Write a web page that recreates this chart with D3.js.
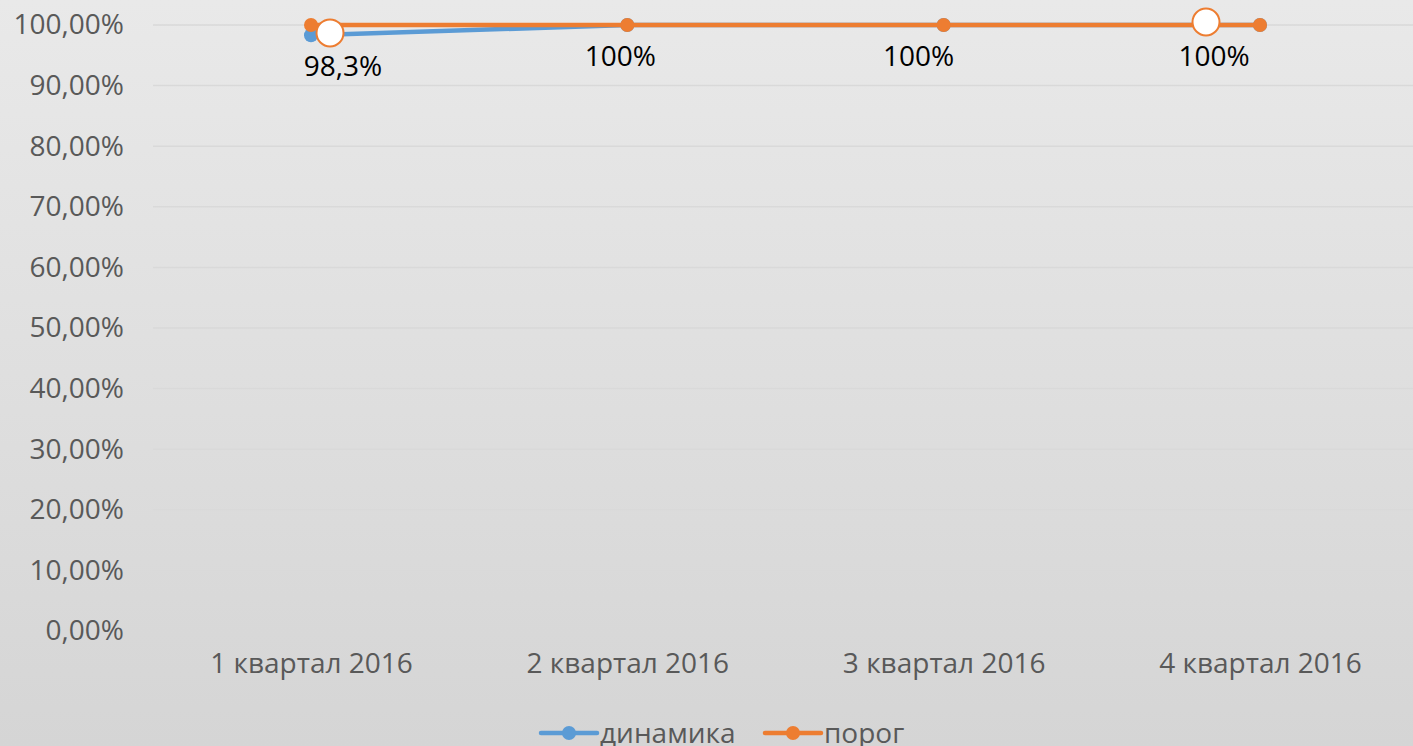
<!DOCTYPE html>
<html><head><meta charset="utf-8">
<script src="https://cdn.jsdelivr.net/npm/d3@7"></script>
<style>
html,body{margin:0;padding:0;overflow:hidden;}
svg{display:block;font-family:"Open Sans",sans-serif;}
</style></head>
<body>
<svg id="c" width="1413" height="746"></svg>
<script>
const categories = ["1 квартал 2016","2 квартал 2016","3 квартал 2016","4 квартал 2016"];
const dinamika = [0.983, 1.0, 1.0, 1.0];
const porog = [1.0, 1.0, 1.0, 1.0];
const dataLabels = ["98,3%","100%","100%","100%"];
const yTicks = [0,0.1,0.2,0.3,0.4,0.5,0.6,0.7,0.8,0.9,1.0];
const seriesNames = ["динамика","порог"];
// hollow annotation circles: [category index, value]
const annotations = [[0, 0.987],[3, 1.005]];

const labelDx = [32, -7, -25, -46];
const W = 1413, H = 746, FS = 28;
const svg = d3.select("#c");
const defs = svg.append("defs");
const grad = defs.append("linearGradient").attr("id","bg").attr("x1",0).attr("y1",0).attr("x2",0).attr("y2",1);
grad.append("stop").attr("offset","0%").attr("stop-color","#e9e9e9");
grad.append("stop").attr("offset","100%").attr("stop-color","#d5d5d5");
svg.append("rect").attr("width",W).attr("height",H).attr("fill","url(#bg)");

const x = d3.scalePoint().domain(categories).range([311, 1260]);
const y = d3.scaleLinear().domain([0,1]).range([631, 25]);
const plotL = 153, plotR = 1413;

const fmt = v => d3.format(".2f")(v*100).replace(".",",") + "%";
svg.append("g").selectAll("line").data(yTicks).join("line")
  .attr("x1",plotL).attr("x2",plotR).attr("y1",d=>y(d)).attr("y2",d=>y(d))
  .attr("stroke","#d9d9d9").attr("stroke-width",1.5);
const yAxis = d3.axisLeft(y).tickValues(yTicks).tickFormat(fmt).tickSize(0).tickPadding(0);
const gy = svg.append("g").attr("transform",`translate(124,0)`).call(yAxis);
gy.select(".domain").remove();
gy.selectAll("text").attr("font-size",FS).attr("fill","#595959").attr("font-family","Open Sans");
const xAxis = d3.axisBottom(x).tickSize(0).tickPadding(0);
const gx = svg.append("g").attr("transform",`translate(0,653)`).call(xAxis);
gx.select(".domain").remove();
gx.selectAll("text").attr("font-size",FS).attr("fill","#595959").attr("font-family","Open Sans");

const colors = ["#5b9bd5","#ed7d31"];
const line = d3.line().x((d,i)=>x(categories[i])).y(d=>y(d));
[dinamika, porog].forEach((s,k)=>{
  svg.append("path").datum(s).attr("d",line).attr("fill","none")
    .attr("stroke",colors[k]).attr("stroke-width",4.5).attr("stroke-linecap","round");
  svg.append("g").selectAll("circle").data(s).join("circle")
    .attr("cx",(d,i)=>x(categories[i])).attr("cy",d=>y(d)).attr("r",7).attr("fill",colors[k]);
});
svg.append("g").selectAll("circle").data(annotations).join("circle")
  .attr("cx",(d,i)=>x(categories[d[0]]) + (i===0?19:-54)).attr("cy",d=>y(d[1]))
  .attr("r",13.5).attr("fill","#ffffff").attr("stroke","#ed7d31").attr("stroke-width",2);
svg.append("g").selectAll("text").data(dinamika).join("text")
  .attr("x",(d,i)=>x(categories[i])+labelDx[i]).attr("y",d=>y(d)+41)
  .attr("text-anchor","middle").attr("font-size",FS).attr("fill","#000")
  .text((d,i)=>dataLabels[i]);

const leg = [{x:541},{x:765}];
seriesNames.forEach((n,k)=>{
  const lx = leg[k].x, ly = 733;
  svg.append("line").attr("x1",lx).attr("x2",lx+56).attr("y1",ly).attr("y2",ly)
    .attr("stroke",colors[k]).attr("stroke-width",4.5).attr("stroke-linecap","round");
  svg.append("circle").attr("cx",lx+28).attr("cy",ly).attr("r",7).attr("fill",colors[k]);
  svg.append("text").attr("x",lx+59).attr("y",ly+10).attr("font-size",FS).attr("fill","#595959").text(n);
});
</script>
</body></html>
